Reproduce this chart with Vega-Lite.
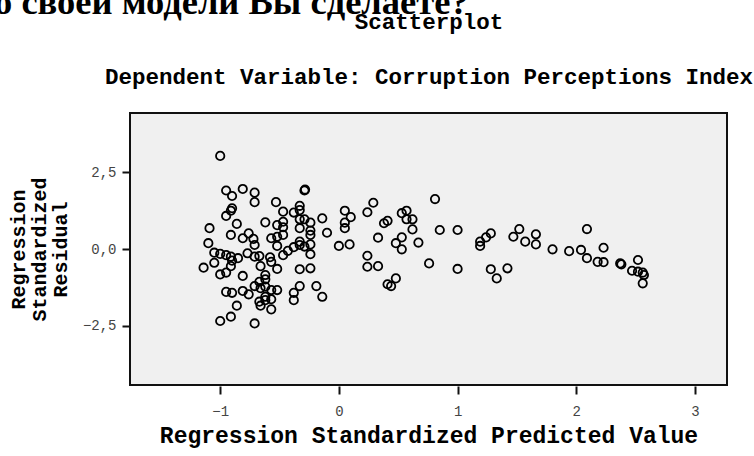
{
  "$schema": "https://vega.github.io/schema/vega-lite/v6.json",
  "autosize": {"type": "none"},
  "width": 597,
  "height": 272,
  "padding": {"left": 130, "top": 113, "right": 27, "bottom": 71},
  "background": "white",
  "title": {
    "text": "о своей модели Вы сделаете?",
    "font": "Liberation Serif",
    "fontSize": 36.5,
    "fontWeight": "bold",
    "color": "black",
    "anchor": "start",
    "frame": "group",
    "baseline": "alphabetic",
    "offset": 0,
    "dx": -136,
    "dy": 40
  },
  "config": {
    "view": {"stroke": "#111", "strokeWidth": 2, "fill": "#f0f0f0"},
    "axis": {"grid": false, "domain": false}
  },
  "resolve": {"axis": {"x": "independent"}},
  "layer": [
    {
      "data": {
        "values": [
          {"x": -1.00, "y": 3.04}, {"x": -0.95, "y": 1.91}, {"x": -0.90, "y": 1.73}, {"x": -0.81, "y": 1.96},
          {"x": -0.71, "y": 1.84}, {"x": -0.71, "y": 1.53}, {"x": -0.90, "y": 1.33}, {"x": -0.91, "y": 1.25},
          {"x": -0.95, "y": 1.08}, {"x": -0.53, "y": 1.53}, {"x": -0.47, "y": 1.22}, {"x": -0.62, "y": 0.87},
          {"x": -0.52, "y": 0.78}, {"x": -0.47, "y": 0.89}, {"x": -0.47, "y": 0.71}, {"x": -0.86, "y": 0.82},
          {"x": -1.09, "y": 0.68}, {"x": -0.91, "y": 0.46}, {"x": -0.76, "y": 0.51}, {"x": -0.81, "y": 0.35},
          {"x": -0.72, "y": 0.33}, {"x": -0.57, "y": 0.35}, {"x": -0.52, "y": 0.40}, {"x": -0.47, "y": 0.46},
          {"x": -0.71, "y": 0.13}, {"x": -0.52, "y": 0.10}, {"x": -1.10, "y": 0.19}, {"x": -1.05, "y": -0.12},
          {"x": -1.00, "y": -0.16}, {"x": -0.95, "y": -0.20}, {"x": -0.91, "y": -0.25}, {"x": -0.85, "y": -0.30},
          {"x": -0.90, "y": -0.38}, {"x": -0.91, "y": -0.56}, {"x": -1.05, "y": -0.45}, {"x": -1.14, "y": -0.61},
          {"x": -1.00, "y": -0.83}, {"x": -0.95, "y": -0.77}, {"x": -0.81, "y": -0.88}, {"x": -0.77, "y": -0.14},
          {"x": -0.71, "y": -0.25}, {"x": -0.67, "y": -0.23}, {"x": -0.66, "y": -0.56}, {"x": -0.58, "y": -0.27},
          {"x": -0.57, "y": -0.42}, {"x": -0.47, "y": -0.20}, {"x": -0.52, "y": -0.65}, {"x": -0.62, "y": -0.85},
          {"x": -0.67, "y": -1.07}, {"x": -0.62, "y": -0.99}, {"x": -0.71, "y": -1.21}, {"x": -0.66, "y": -1.28},
          {"x": -0.62, "y": -1.23}, {"x": -0.57, "y": -1.34}, {"x": -0.52, "y": -1.34}, {"x": -0.95, "y": -1.40},
          {"x": -0.90, "y": -1.43}, {"x": -0.81, "y": -1.37}, {"x": -0.76, "y": -1.48}, {"x": -0.67, "y": -1.72},
          {"x": -0.62, "y": -1.67}, {"x": -0.57, "y": -1.64}, {"x": -0.66, "y": -1.85}, {"x": -0.57, "y": -1.97},
          {"x": -0.86, "y": -1.85}, {"x": -0.91, "y": -2.21}, {"x": -1.00, "y": -2.35}, {"x": -0.71, "y": -2.43},
          {"x": -0.43, "y": -0.06}, {"x": -0.62, "y": -1.56},
          {"x": -0.29, "y": 1.91}, {"x": -0.285, "y": 1.94}, {"x": -0.33, "y": 1.41}, {"x": -0.38, "y": 1.19},
          {"x": -0.33, "y": 1.27}, {"x": -0.29, "y": 0.97}, {"x": -0.33, "y": 0.97}, {"x": -0.24, "y": 0.86},
          {"x": -0.14, "y": 1.00}, {"x": -0.33, "y": 0.68}, {"x": -0.24, "y": 0.60}, {"x": -0.24, "y": 0.46},
          {"x": -0.10, "y": 0.53}, {"x": -0.33, "y": 0.24}, {"x": -0.33, "y": 0.13}, {"x": -0.38, "y": 0.06},
          {"x": -0.29, "y": 0.08}, {"x": -0.24, "y": 0.15}, {"x": -0.24, "y": -0.17}, {"x": -0.33, "y": -0.66},
          {"x": -0.24, "y": -0.63}, {"x": -0.33, "y": -1.21}, {"x": -0.38, "y": -1.43}, {"x": -0.38, "y": -1.67},
          {"x": -0.19, "y": -1.21}, {"x": -0.14, "y": -1.56}, {"x": 0.05, "y": 1.25}, {"x": 0.10, "y": 1.04},
          {"x": 0.05, "y": 0.86}, {"x": 0.05, "y": 0.68}, {"x": 0.00, "y": 0.10}, {"x": 0.09, "y": 0.15},
          {"x": 0.24, "y": 1.20}, {"x": 0.29, "y": 1.51}, {"x": 0.38, "y": 0.84}, {"x": 0.41, "y": 0.92},
          {"x": 0.33, "y": 0.37}, {"x": 0.24, "y": -0.22}, {"x": 0.24, "y": -0.58}, {"x": 0.33, "y": -0.56},
          {"x": 0.41, "y": -1.15},
          {"x": 0.81, "y": 1.63}, {"x": 0.53, "y": 1.17}, {"x": 0.57, "y": 1.25}, {"x": 0.57, "y": 0.97},
          {"x": 0.62, "y": 0.97}, {"x": 0.62, "y": 0.64}, {"x": 0.53, "y": 0.38}, {"x": 0.48, "y": 0.19},
          {"x": 0.53, "y": -0.01}, {"x": 0.67, "y": 0.21}, {"x": 0.85, "y": 0.62}, {"x": 1.00, "y": 0.62},
          {"x": 0.76, "y": -0.47}, {"x": 1.00, "y": -0.65}, {"x": 0.48, "y": -0.96}, {"x": 0.44, "y": -1.21},
          {"x": 1.19, "y": 0.24}, {"x": 1.19, "y": 0.10}, {"x": 1.24, "y": 0.38}, {"x": 1.28, "y": 0.51},
          {"x": 1.28, "y": -0.66}, {"x": 1.33, "y": -0.96},
          {"x": 1.42, "y": -0.63}, {"x": 1.47, "y": 0.40}, {"x": 1.52, "y": 0.65}, {"x": 1.57, "y": 0.24},
          {"x": 1.66, "y": 0.48}, {"x": 1.66, "y": 0.15}, {"x": 1.80, "y": -0.01}, {"x": 1.94, "y": -0.07},
          {"x": 2.04, "y": -0.03}, {"x": 2.09, "y": 0.65}, {"x": 2.09, "y": -0.30}, {"x": 2.18, "y": -0.42},
          {"x": 2.23, "y": -0.43}, {"x": 2.23, "y": 0.04}, {"x": 2.37, "y": -0.47}, {"x": 2.38, "y": -0.50},
          {"x": 2.52, "y": -0.36}, {"x": 2.47, "y": -0.71}, {"x": 2.52, "y": -0.74}, {"x": 2.56, "y": -0.77},
          {"x": 2.57, "y": -0.85}, {"x": 2.56, "y": -1.12}
        ]
      },
      "mark": {"type": "point", "shape": "circle", "filled": false, "stroke": "black", "strokeWidth": 1.8, "size": 70, "opacity": 1},
      "encoding": {
        "x": {
          "field": "x", "type": "quantitative",
          "scale": {"domain": [-1.76, 3.27], "nice": false, "zero": false},
          "axis": {
            "orient": "bottom", "values": [-1, 0, 1, 2, 3], "offset": 1,
            "tickSize": 8, "tickWidth": 2, "tickColor": "#111",
            "labelFont": "Liberation Mono", "labelFontSize": 14, "labelColor": "#444", "labelPadding": 10,
            "title": "Regression Standardized Predicted Value",
            "titleFont": "Liberation Mono", "titleFontSize": 23, "titleFontWeight": "bold", "titleColor": "black",
            "titlePadding": 6
          }
        },
        "y": {
          "field": "y", "type": "quantitative",
          "scale": {"domain": [-4.44, 4.44], "nice": false, "zero": false},
          "axis": {
            "values": [-2.5, 0, 2.5], "offset": 1,
            "labelExpr": "replace(format(datum.value, '.1f'), '.', ',')",
            "tickSize": 7, "tickWidth": 2, "tickColor": "#111",
            "labelFont": "Liberation Mono", "labelFontSize": 14, "labelColor": "#444", "labelPadding": 6,
            "title": ["Regression", "Standardized", "Residual"],
            "titleFont": "Liberation Mono", "titleFontSize": 20, "titleFontWeight": "bold", "titleColor": "black",
            "titleLineHeight": 21, "titlePadding": 12
          }
        }
      }
    },
    {
      "data": {"values": []},
      "mark": {"type": "point"},
      "encoding": {
        "x": {
          "field": "x", "type": "quantitative",
          "axis": {
            "orient": "top", "ticks": false, "labels": false, "domain": false,
            "title": ["Scatterplot", "Dependent Variable: Corruption Perceptions Index"],
            "titleFont": "Liberation Mono", "titleFontSize": 22.5, "titleFontWeight": "bold", "titleColor": "black",
            "titleLineHeight": 55, "titleBaseline": "alphabetic", "titleY": -85
          }
        }
      }
    }
  ]
}
